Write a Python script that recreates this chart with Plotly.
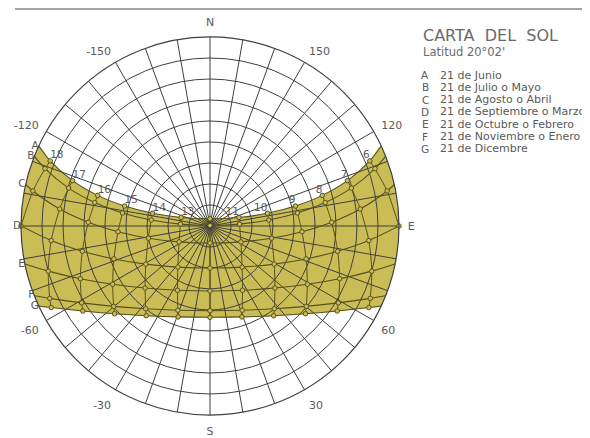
import plotly.graph_objects as go

# ---------------- data ----------------
title_text = "CARTA  DEL  SOL"
lat_text = "Latitud 20°02'"
date_letters = ["A", "B", "C", "D", "E", "F", "G"]
date_names = ["21 de Junio", "21 de Julio o Mayo", "21 de Agosto o Abril",
              "21 de Septiembre o Marzo", "21 de Octubre o Febrero",
              "21 de Noviembre o Enero", "21 de Dicembre"]

# sunrise azimuth, degrees from North (clockwise, E = 90)
rise_az = [64.95, 68.33, 77.32, 90.0, 101.61, 111.67, 115.05]

# morning hour points 6..12 h (azimuth from N, altitude); None = sun below horizon
hours = [6, 7, 8, 9, 10, 11, 12]
az_A = [67.84, 71.74, 74.75, 76.86, 77.52, 73.55, 0.0]
alt_A = [7.83, 21.06, 34.56, 48.23, 61.97, 75.67, 86.59]
az_B = [70.84, 75.00, 78.50, 81.53, 84.20, 86.33, 0.0]
alt_B = [6.83, 20.30, 34.02, 47.90, 61.88, 75.92, 89.73]
az_C = [78.80, 83.54, 88.24, 93.58, 101.17, 117.18, 180.0]
alt_C = [4.05, 17.97, 32.02, 46.11, 60.08, 73.45, 81.87]
az_D = [90.0, 95.24, 101.19, 108.91, 120.68, 141.97, 180.0]
alt_D = [0.0, 14.07, 28.02, 41.63, 54.45, 65.16, 69.97]
az_E = [None, 105.59, 112.13, 120.90, 133.69, 153.17, 180.0]
alt_E = [None, 10.02, 23.36, 35.98, 47.24, 55.72, 59.07]
az_F = [None, 114.30, 120.93, 129.83, 142.18, 159.11, 180.0]
alt_F = [None, 6.27, 18.77, 30.28, 40.10, 47.07, 49.67]
az_G = [None, 117.18, 123.75, 132.57, 144.62, 160.70, 180.0]
alt_G = [None, 4.98, 17.14, 28.24, 37.60, 44.13, 46.53]

az_table = [az_A, az_B, az_C, az_D, az_E, az_F, az_G]
alt_table = [alt_A, alt_B, alt_C, alt_D, alt_E, alt_F, alt_G]

# angular tick labels (azimuth measured from South, as printed on the chart)
tick_dirs = [0, 30, 60, 90, 120, 150, 180, 210, 240, 270, 300, 330]
tick_names = ["N", "150", "120", "E", "60", "30", "S", "-30", "-60", "O", "-120", "-150"]
alt_rings = [10, 20, 30, 40, 50, 60, 70, 80]

# ---------------- styles ----------------
W, H = 590, 438
OFF = 8                      # page body margin of the browser
CX, CY, R = 210 - OFF, 226 - OFF, 189
FILL = "#cbbd55"
CURVE = "#56501f"
GRID = "#3f3f3f"
TXT = "#5a5a5a"
FONT = "DejaVu Sans"


def px(x):
    return (x - OFF) / W


def py(y):
    return 1 - (y - OFF) / H


def day_path(i):
    """Full path sunrise -> hour points -> sunset for date i (theta, r=zenith dist)."""
    az, alt = az_table[i], alt_table[i]
    th, rr = [], []
    if alt[0] is None or alt[0] > 0:
        th.append(rise_az[i]); rr.append(90.0)
    for a, h in zip(az, alt):
        if a is None:
            continue
        th.append(a); rr.append(90 - h)
    for a, h in zip(az[-2::-1], alt[-2::-1]):
        if a is None:
            continue
        th.append(360 - a); rr.append(90 - h)
    if alt[0] is None or alt[0] > 0:
        th.append(360 - rise_az[i]); rr.append(90.0)
    return th, rr


fig = go.Figure()

# --- yellow band (on lower polar subplot) ---
thA, rA = day_path(0)
thG, rG = day_path(6)
fth = list(thA)
fr = list(rA)
for i in range(1, 6):
    fth.append(360 - rise_az[i]); fr.append(90.0)
fth += thG[::-1]
fr += rG[::-1]
for i in range(5, 0, -1):
    fth.append(rise_az[i]); fr.append(90.0)
fth.append(thA[0]); fr.append(rA[0])
fig.add_trace(go.Scatterpolar(theta=fth, r=fr, mode="lines", fill="toself",
                              fillcolor=FILL, line=dict(color=FILL, width=0.5, shape="spline", smoothing=0.8),
                              subplot="polar", hoverinfo="skip", showlegend=False))

# --- day curves ---
for i in range(7):
    th, rr = day_path(i)
    fig.add_trace(go.Scatterpolar(theta=th, r=rr, mode="lines",
                                  line=dict(color=CURVE, width=1.1, shape="spline", smoothing=0.8),
                                  subplot="polar2", hoverinfo="skip", showlegend=False))

# --- hour lines ---
for k, h in enumerate(hours):
    th, rr, th2 = [], [], []
    for i in range(7):
        a, al = az_table[i][k], alt_table[i][k]
        if a is None:
            continue
        th.append(a); rr.append(90 - al); th2.append(360 - a)
    fig.add_trace(go.Scatterpolar(theta=th, r=rr, mode="lines",
                                  line=dict(color=CURVE, width=1.0, shape="spline", smoothing=0.8),
                                  subplot="polar2", hoverinfo="skip", showlegend=False))
    if h != 12:
        fig.add_trace(go.Scatterpolar(theta=th2, r=rr, mode="lines",
                                      line=dict(color=CURVE, width=1.0, shape="spline", smoothing=0.8),
                                      subplot="polar2", hoverinfo="skip", showlegend=False))

# --- hour markers ---
mth, mr = [], []
for i in range(7):
    for k, h in enumerate(hours):
        a, al = az_table[i][k], alt_table[i][k]
        if a is None:
            continue
        mth.append(a); mr.append(90 - al)
        if h != 12:
            mth.append(360 - a); mr.append(90 - al)
fig.add_trace(go.Scatterpolar(theta=mth, r=mr, mode="markers",
                              marker=dict(size=4.5, color=FILL, line=dict(color=CURVE, width=1)),
                              subplot="polar2", hoverinfo="skip", showlegend=False))

# --- hour labels along the June curve ---
lab_th = [az_A[k] for k in range(6)] + [360 - az_A[k] for k in range(6)]
lab_r = [90 - alt_A[k] for k in range(6)] * 2
lab_t = [str(h) for h in hours[:6]] + [str(24 - h) for h in hours[:6]]
lab_pos = ["top left"] * 6 + ["top right"] * 6
fig.add_trace(go.Scatterpolar(theta=lab_th, r=lab_r, mode="text", text=lab_t,
                              textposition=lab_pos, cliponaxis=False,
                              textfont=dict(family=FONT, size=10.5, color=TXT),
                              subplot="polar2", hoverinfo="skip", showlegend=False))

# --- date letters at sunset points ---
fig.add_trace(go.Scatterpolar(theta=[360 - a for a in rise_az], r=[90] * 7, mode="text",
                              text=date_letters, textposition="middle left", cliponaxis=False,
                              textfont=dict(family=FONT, size=10.5, color=TXT),
                              subplot="polar2", hoverinfo="skip", showlegend=False))

xd = [(CX - R) / W, (CX + R) / W]
yd = [1 - (CY + R) / H, 1 - (CY - R) / H]
ang_vals = list(range(0, 360, 10))
ang_text = [tick_names[tick_dirs.index(v)] if v in tick_dirs else "" for v in ang_vals]

fig.update_layout(
    width=W, height=H, margin=dict(l=0, r=0, t=0, b=0),
    paper_bgcolor="white", plot_bgcolor="white", showlegend=False,
    font=dict(family=FONT, color=TXT),
    polar=dict(domain=dict(x=xd, y=yd), bgcolor="white",
               radialaxis=dict(range=[0, 90], visible=False),
               angularaxis=dict(rotation=90, direction="clockwise", visible=False)),
    polar2=dict(domain=dict(x=xd, y=yd), bgcolor="rgba(0,0,0,0)",
                radialaxis=dict(range=[0, 90], tickmode="array", tickvals=alt_rings,
                                showticklabels=False, ticks="", showline=False,
                                gridcolor=GRID, gridwidth=1),
                angularaxis=dict(rotation=90, direction="clockwise", tickmode="array",
                                 tickvals=ang_vals, ticktext=ang_text,
                                 showline=True, linecolor=GRID, linewidth=1.2,
                                 gridcolor=GRID, gridwidth=1,
                                 ticks="outside", ticklen=6, tickcolor="rgba(0,0,0,0)",
                                 tickfont=dict(family=FONT, size=11, color=TXT))),
)

# header rule and left crop
fig.add_shape(type="line", xref="paper", yref="paper", x0=px(15), x1=1, y0=py(9), y1=py(9),
              line=dict(color="#a3a3a3", width=2), layer="above")
fig.add_shape(type="rect", xref="paper", yref="paper", x0=-0.01, x1=px(14), y0=0, y1=1,
              fillcolor="white", line=dict(width=0), layer="above")

# title block
fig.add_annotation(text=title_text, xref="paper", yref="paper", x=px(421), y=py(35),
                   xanchor="left", yanchor="middle", showarrow=False,
                   font=dict(family=FONT, size=16, color="#6a6a6a"))
fig.add_annotation(text=lat_text, xref="paper", yref="paper", x=px(421), y=py(52),
                   xanchor="left", yanchor="middle", showarrow=False,
                   font=dict(family=FONT, size=11.5, color="#6a6a6a"))
for j, (L, name) in enumerate(zip(date_letters, date_names)):
    yy = py(75 + j * 12.3)
    fig.add_annotation(text=L, xref="paper", yref="paper", x=px(425), y=yy,
                       xanchor="center", yanchor="middle", showarrow=False,
                       font=dict(family=FONT, size=10.5, color=TXT))
    fig.add_annotation(text=name, xref="paper", yref="paper", x=px(438), y=yy,
                       xanchor="left", yanchor="middle", showarrow=False,
                       font=dict(family=FONT, size=11, color=TXT))

fig.write_html("out.html")
